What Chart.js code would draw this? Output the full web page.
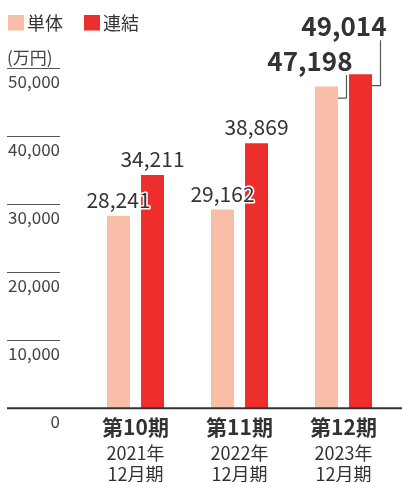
<!DOCTYPE html>
<html>
<head>
<meta charset="utf-8">
<script src="https://cdn.jsdelivr.net/npm/chart.js@4"></script>
<style>
  html, body { margin: 0; padding: 0; background: #ffffff; }
  #wrap { position: relative; width: 402px; height: 482px; }
</style>
</head>
<body>
<div id="wrap"><canvas id="c" width="402" height="482"></canvas></div>
<script>
// ---- data ----
const categories = ['第10期', '第11期', '第12期'];
const yearLabels = ['2021年', '2022年', '2023年'];
const closingLabels = ['12月期', '12月期', '12月期'];
const seriesNames = ['単体', '連結'];
const standalone = [28241, 29162, 47198];
const consolidated = [34211, 38869, 49014];
const yTicks = [0, 10000, 20000, 30000, 40000, 50000];
const unitLabel = '(万円)';

// ---- style ----
const PINK = '#F8BEA8';
const RED = '#EE2E2C';
const TEXT = '#333333';
const FONT = '"Noto Sans CJK JP", "Noto Sans", sans-serif';
const fmt = v => v.toLocaleString('en-US');

const drawPlugin = {
  id: 'customDraw',
  afterDatasetsDraw(chart) {
    const ctx = chart.ctx;
    const xs = chart.scales.x, ys = chart.scales.y;
    ctx.save();

    // y ticks: short rules with labels beneath
    ctx.fillStyle = '#444';
    ctx.strokeStyle = '#555';
    ctx.textAlign = 'right';
    ctx.textBaseline = 'middle';
    ctx.font = '17px ' + FONT;
    yTicks.forEach(v => {
      const y = Math.round(ys.getPixelForValue(v));
      if (v > 0) {
        ctx.lineWidth = 1;
        ctx.beginPath();
        ctx.moveTo(7, y + 0.5);
        ctx.lineTo(60, y + 0.5);
        ctx.stroke();
      }
      ctx.fillText(fmt(v), 60, y + 14);
    });
    // unit
    ctx.textAlign = 'left';
    ctx.fillText(unitLabel, 7, ys.getPixelForValue(50000) - 10);

    // baseline
    const y0 = ys.getPixelForValue(0);
    ctx.strokeStyle = '#333';
    ctx.lineWidth = 2;
    ctx.beginPath();
    ctx.moveTo(7, y0);
    ctx.lineTo(402, y0);
    ctx.stroke();

    // category labels
    ctx.fillStyle = TEXT;
    ctx.textAlign = 'center';
    categories.forEach((c, i) => {
      const x = xs.getPixelForValue(i);
      ctx.font = 'bold 21px ' + FONT;
      ctx.fillText(c, x, y0 + 18.5);
      ctx.font = '18px ' + FONT;
      ctx.fillText(yearLabels[i], x, y0 + 45);
      ctx.fillText(closingLabels[i], x, y0 + 65.5);
    });

    // value labels
    const last = categories.length - 1;
    const metaA = chart.getDatasetMeta(0), metaB = chart.getDatasetMeta(1);
    [metaA, metaB].forEach((meta, di) => {
      const vals = di === 0 ? standalone : consolidated;
      meta.data.forEach((bar, i) => {
        if (i === last) return;
        ctx.font = '21px ' + FONT;
        ctx.textAlign = 'center';
        ctx.textBaseline = 'alphabetic';
        const ty = bar.y - 8;
        ctx.lineWidth = 3;
        ctx.strokeStyle = '#ffffff';
        ctx.lineJoin = 'round';
        ctx.strokeText(fmt(vals[i]), bar.x, ty);
        ctx.fillStyle = TEXT;
        ctx.fillText(fmt(vals[i]), bar.x, ty);
      });
    });

    // callouts for latest period
    const rises = [26.7, 49];
    [metaA, metaB].forEach((meta, di) => {
      const vals = di === 0 ? standalone : consolidated;
      const bar = meta.data[last];
      const right = bar.x + bar.width / 2;
      const lx = right + 8.5;
      const cy = bar.y - rises[di];
      ctx.strokeStyle = '#555';
      ctx.lineWidth = 1.2;
      ctx.beginPath();
      ctx.moveTo(right, bar.y + 11.5);
      ctx.lineTo(lx, bar.y + 11.5);
      ctx.lineTo(lx, cy + 15);
      ctx.stroke();
      ctx.font = 'bold 26px ' + FONT;
      ctx.textAlign = 'right';
      ctx.textBaseline = 'middle';
      ctx.fillStyle = TEXT;
      ctx.fillText(fmt(vals[last]), lx + 6, cy + 1);
    });

    // legend
    ctx.textAlign = 'left';
    ctx.textBaseline = 'middle';
    ctx.font = '18px ' + FONT;
    const lx0 = [8, 84];
    chart.data.datasets.forEach((ds, i) => {
      ctx.fillStyle = ds.backgroundColor;
      ctx.fillRect(lx0[i], 15, 16, 15.5);
      ctx.fillStyle = TEXT;
      ctx.fillText(ds.label, lx0[i] + 19, 23);
    });

    ctx.restore();
  }
};

new Chart(document.getElementById('c'), {
  type: 'bar',
  data: {
    labels: categories,
    datasets: [
      { label: seriesNames[0], data: standalone, backgroundColor: PINK },
      { label: seriesNames[1], data: consolidated, backgroundColor: RED }
    ]
  },
  options: {
    responsive: false,
    animation: false,
    devicePixelRatio: 1,
    layout: { padding: { left: 83.5, right: 6.5, top: 67.5, bottom: 73.7 } },
    datasets: { bar: { categoryPercentage: 0.654, barPercentage: 0.676 } },
    scales: {
      x: { display: false },
      y: { display: false, min: 0, max: 50000 }
    },
    plugins: { legend: { display: false }, tooltip: { enabled: false } }
  },
  plugins: [drawPlugin]
});
</script>
</body>
</html>
